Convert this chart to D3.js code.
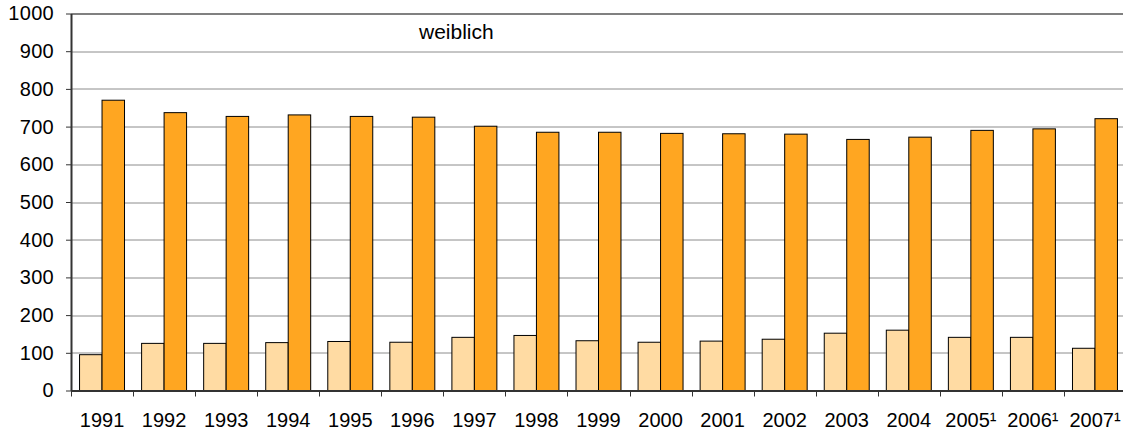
<!DOCTYPE html>
<html lang="de">
<head>
<meta charset="utf-8">
<title>weiblich</title>
<script src="https://d3js.org/d3.v7.min.js"></script>
<style>
  body { margin: 0; background: #fff; }
  text { font-family: "Liberation Sans", Arial, sans-serif; fill: #000; }
</style>
</head>
<body>
<div id="chart"></div>
<script>
// data
var years = ["1991","1992","1993","1994","1995","1996","1997","1998","1999","2000",
             "2001","2002","2003","2004","2005\u00b9","2006\u00b9","2007\u00b9"];
var seriesLight = [95,125,125,127,130,128,141,146,132,128,131,136,152,160,141,141,112];
var seriesOrange = [770,737,727,731,727,725,701,685,685,682,681,680,666,672,690,694,721];
var yTicks = [0,100,200,300,400,500,600,700,800,900,1000];
var title = "weiblich";

var width = 1123, height = 430;
var margin = {top: 13.5, right: -3, bottom: 39.5, left: 71};
var innerW = width - margin.left - margin.right,
    innerH = height - margin.top - margin.bottom;

var svg = d3.select("#chart").append("svg")
    .attr("width", width).attr("height", height);
var g = svg.append("g").attr("transform", "translate(" + margin.left + "," + margin.top + ")");

var x = d3.scaleBand().domain(years).range([0, innerW]).paddingInner(0).paddingOuter(0);
var x1 = d3.scaleBand().domain(["a","b"]).range([0, x.bandwidth()]).paddingInner(0).paddingOuter(0.38);
var y = d3.scaleLinear().domain([0, 1000]).range([innerH, 0]);

// gridlines
g.selectAll(".grid").data(yTicks.filter(function (d) { return d > 0; }))
  .enter().append("line")
    .attr("x1", 0).attr("x2", innerW)
    .attr("y1", function (d) { return Math.round(y(d)) + 0.5; })
    .attr("y2", function (d) { return Math.round(y(d)) + 0.5; })
    .style("stroke", function (d) { return d === 1000 ? "#808080" : "#8c8c8c"; })
    .style("stroke-width", function (d) { return d === 1000 ? 2 : 1; });

// bars
var groups = g.selectAll(".year").data(years).enter().append("g")
    .attr("transform", function (d) { return "translate(" + x(d) + ",0)"; });

groups.append("rect")
    .attr("x", x1("a")).attr("width", x1.bandwidth())
    .attr("y", function (d, i) { return y(seriesLight[i]); })
    .attr("height", function (d, i) { return y(0) - y(seriesLight[i]); })
    .style("fill", "#ffdba3").style("stroke", "#000").style("stroke-width", 1);

groups.append("rect")
    .attr("x", x1("b")).attr("width", x1.bandwidth())
    .attr("y", function (d, i) { return y(seriesOrange[i]); })
    .attr("height", function (d, i) { return y(0) - y(seriesOrange[i]); })
    .style("fill", "#ffa621").style("stroke", "#000").style("stroke-width", 1);

// y axis
var yAxis = g.append("g")
    .call(d3.axisLeft(y).tickValues(yTicks).tickFormat(d3.format("d"))
      .tickSize(5).tickSizeOuter(0).tickPadding(12));
yAxis.select(".domain").style("stroke", "#333").style("stroke-width", 2);
yAxis.selectAll(".tick line").style("stroke", "#333");
yAxis.selectAll(".tick text").style("font-size", "20px").style("letter-spacing", "0.3px");

// x axis
var xAxis = g.append("g").attr("transform", "translate(0," + innerH + ")")
    .call(d3.axisBottom(x).tickSize(0).tickSizeOuter(0).tickPadding(22));
xAxis.select(".domain").style("stroke", "#333").style("stroke-width", 2);
xAxis.selectAll(".tick text").style("font-size", "20px");
g.append("g").selectAll("line").data(years).enter().append("line")
    .attr("x1", function (d) { return Math.round(x(d)) + 0.5; })
    .attr("x2", function (d) { return Math.round(x(d)) + 0.5; })
    .attr("y1", innerH).attr("y2", innerH + 6)
    .style("stroke", "#333");

svg.append("text").attr("x", 419).attr("y", 38.5).style("font-size", "21px").text(title);
</script>
</body>
</html>
